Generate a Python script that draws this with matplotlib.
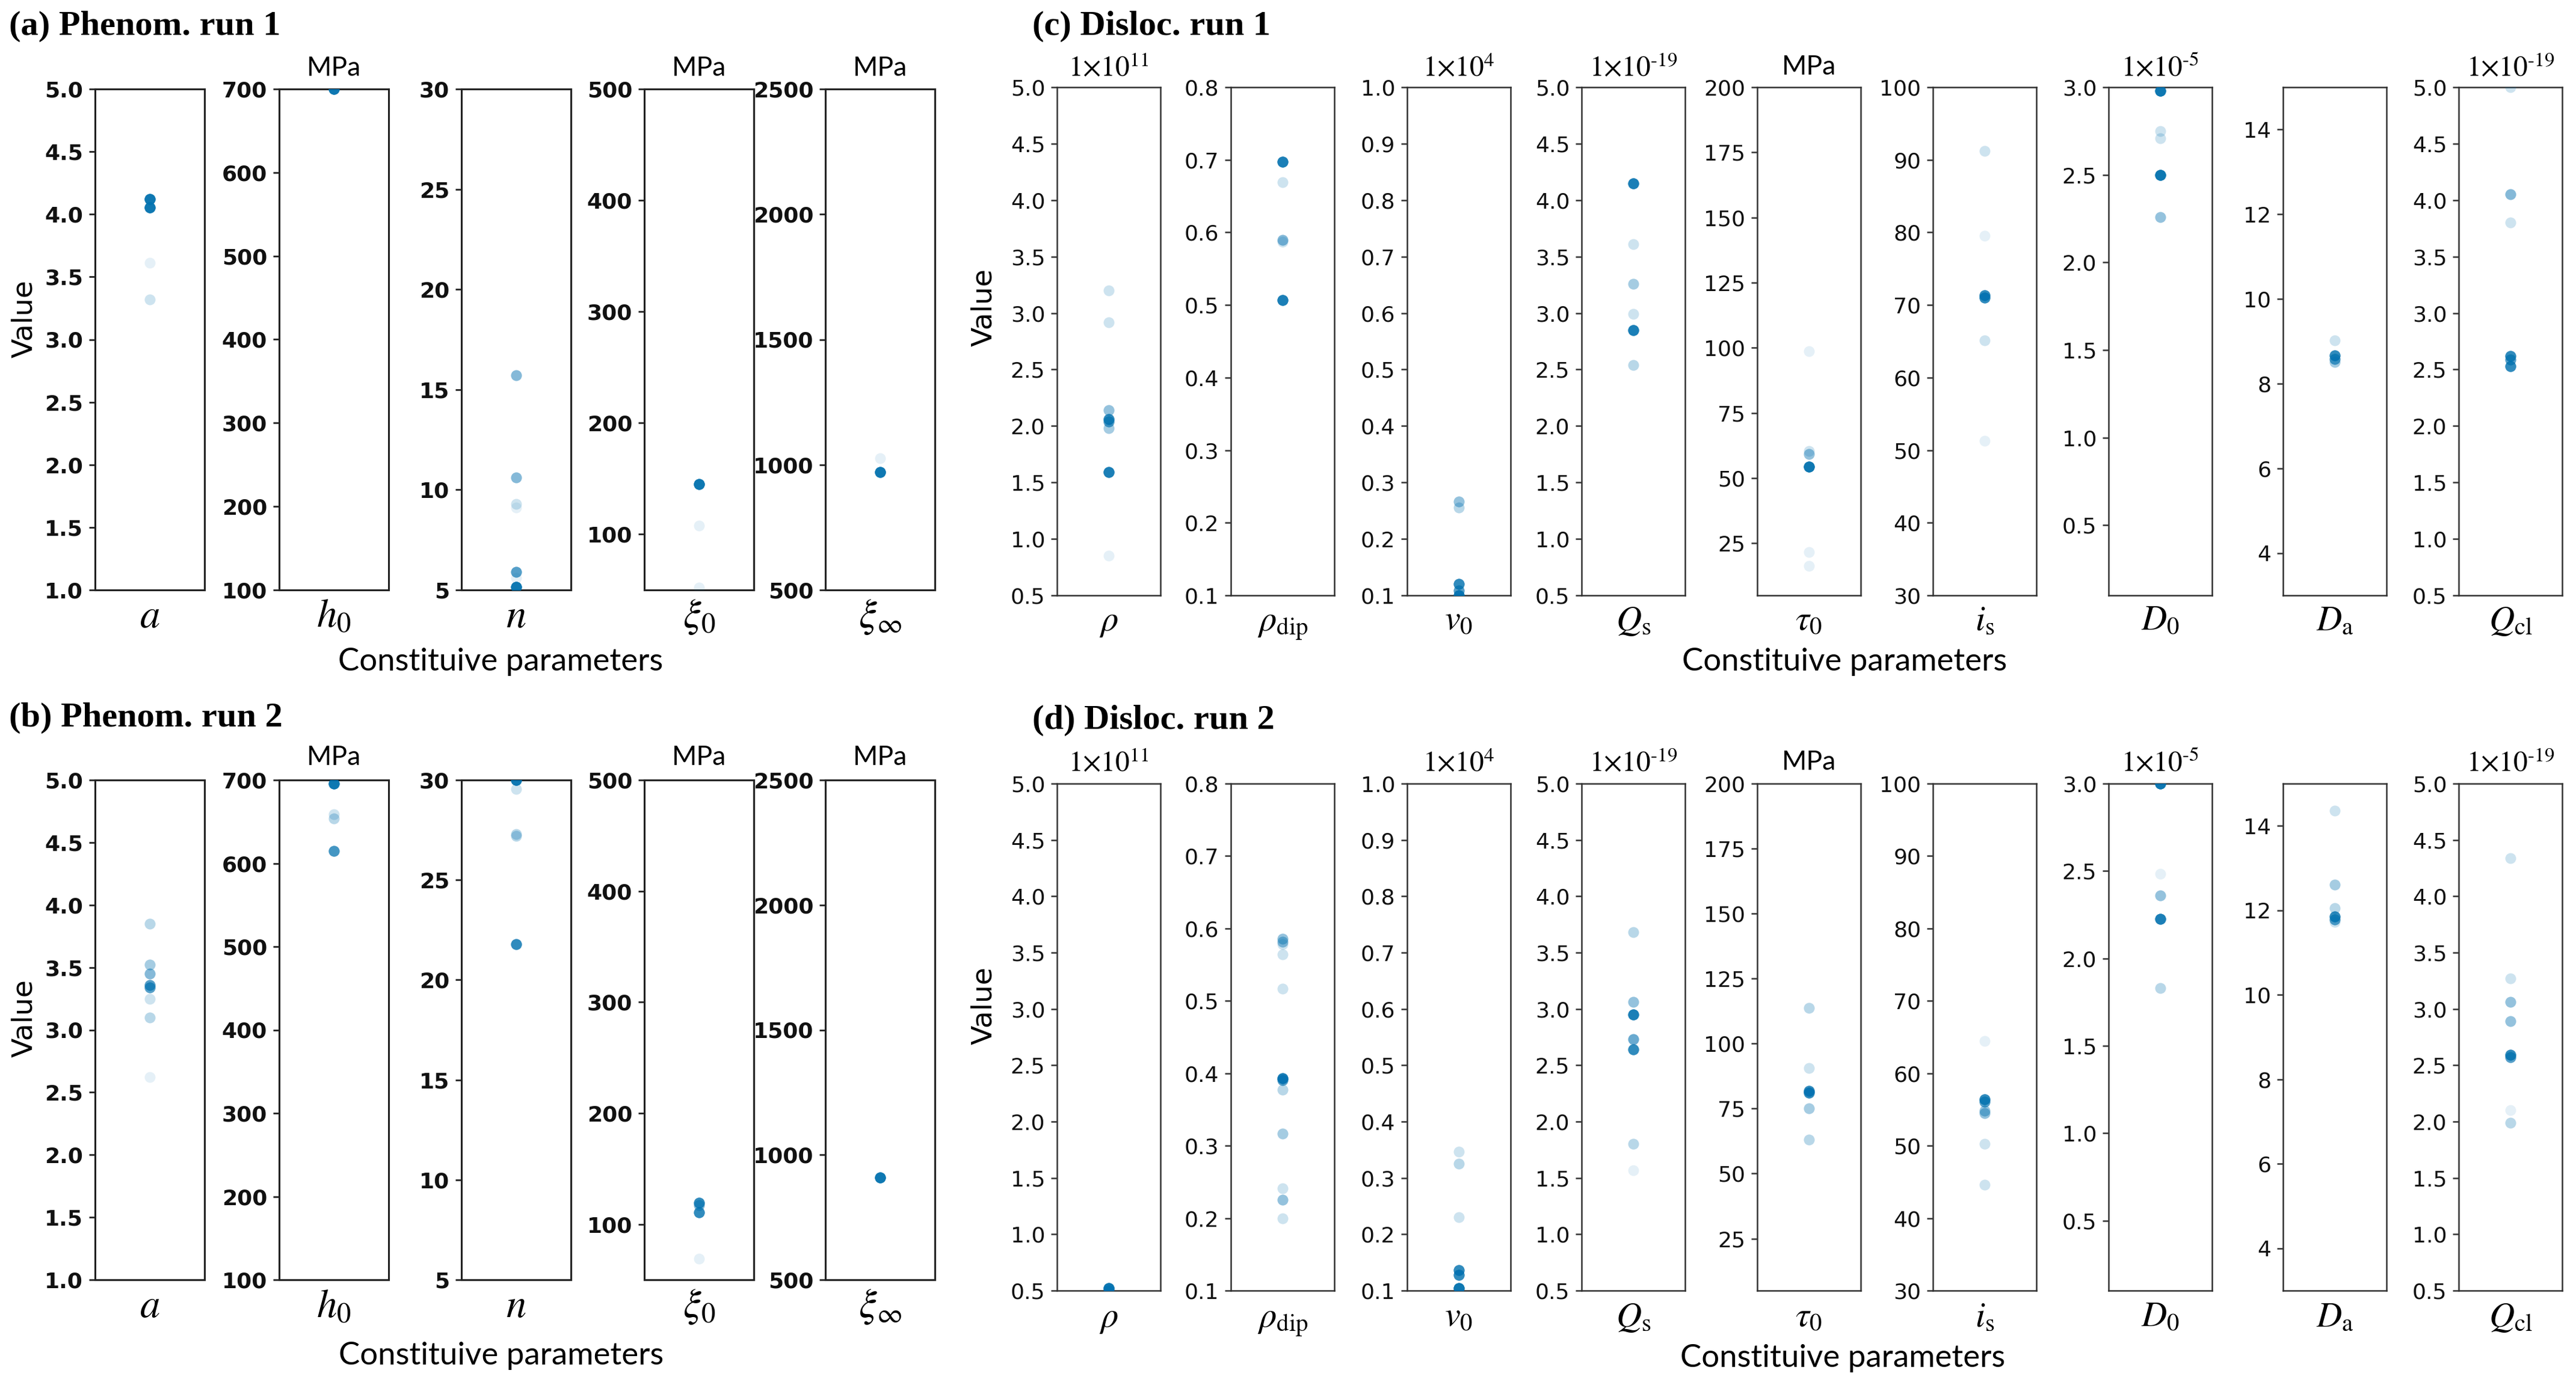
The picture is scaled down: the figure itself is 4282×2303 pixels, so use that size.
import numpy as np
import matplotlib
matplotlib.use('Agg')
import matplotlib.pyplot as plt

plt.rcParams['mathtext.fontset'] = 'stix'

# ---------------- data ----------------
phen_labels = [r'$a$', r'$h_0$', r'$n$', r'$\xi_0$', r'$\xi_\infty$']
phen_units = ['', 'MPa', '', 'MPa', 'MPa']
phen_ylim = [(1.0, 5.0), (100, 700), (5, 30), (50, 500), (500, 2500)]
phen_ticks = [np.arange(1.0, 5.01, 0.5), np.arange(100, 701, 100), np.arange(5, 31, 5),
              np.arange(100, 501, 100), np.arange(500, 2501, 500)]
phen_dec = [1, 0, 0, 0, 0]

# values and number of overlapping runs at each value
phen1_vals = [[4.12, 4.055, 3.61, 3.32],
              [700],
              [15.7, 10.6, 9.3, 9.1, 5.9, 5.6, 5.15],
              [145, 108, 52],
              [1027, 970]]
phen1_cnt = [[25, 25, 1, 2],
             [25],
             [6, 6, 2, 1, 10, 1, 25],
             [25, 1, 1],
             [1, 25]]
phen2_vals = [[3.85, 3.52, 3.45, 3.36, 3.34, 3.25, 3.10, 2.62],
              [696, 659, 654, 615],
              [30, 29.56, 27.3, 27.2, 21.8],
              [119.5, 117, 110.7, 69],
              [908]]
phen2_cnt = [[3, 4, 6, 10, 10, 2, 3, 1],
             [25, 2, 3, 12],
             [25, 2, 3, 3, 15],
             [15, 6, 15, 1],
             [25]]

disl_labels = [r'$\rho$', r'$\rho_{\rm dip}$', r'$v_0$', r'$Q_{\rm s}$', r'$\tau_0$',
               r'$i_{\rm s}$', r'$D_0$', r'$D_{\rm a}$', r'$Q_{\rm cl}$']
disl_units = [r'$1{\times}10^{11}$', '', r'$1{\times}10^{4}$', r'$1{\times}10^{\text{-19}}$', 'MPa',
              '', r'$1{\times}10^{\text{-5}}$', '', r'$1{\times}10^{\text{-19}}$']
disl_ylim = [(0.5, 5.0), (0.1, 0.8), (0.1, 1.0), (0.5, 5.0), (5, 200),
             (30, 100), (0.1, 3.0), (3, 15), (0.5, 5.0)]
disl_ticks = [np.arange(0.5, 5.01, 0.5), np.arange(0.1, 0.81, 0.1), np.arange(0.1, 1.01, 0.1),
              np.arange(0.5, 5.01, 0.5), np.arange(25, 201, 25), np.arange(30, 101, 10),
              np.arange(0.5, 3.01, 0.5), np.arange(4, 15, 2), np.arange(0.5, 5.01, 0.5)]
disl_dec = [1, 1, 1, 1, 0, 0, 1, 0, 1]

disl1_vals = [[3.20, 2.92, 2.14, 2.06, 2.04, 1.98, 1.59, 0.85],
              [0.697, 0.669, 0.590, 0.587, 0.507],
              [0.266, 0.255, 0.12, 0.108, 0.10],
              [4.15, 3.61, 3.26, 2.99, 2.85, 2.54],
              [98.7, 60.4, 59.2, 54.5, 21.6, 16.2],
              [91.25, 79.5, 71.3, 71.0, 65.1, 51.3],
              [2.98, 2.75, 2.71, 2.50, 2.26],
              [9.02, 8.66, 8.58, 8.51],
              [5.0, 4.05, 3.80, 2.62, 2.59, 2.53]]
disl1_cnt = [[2, 2, 5, 15, 10, 4, 20, 1],
             [20, 2, 6, 2, 20],
             [5, 3, 15, 10, 20],
             [20, 2, 4, 2, 20, 3],
             [1, 2, 5, 25, 1, 1],
             [2, 1, 15, 15, 2, 1],
             [25, 2, 2, 25, 5],
             [2, 15, 10, 4],
             [2, 6, 2, 15, 10, 15]]
disl2_vals = [[0.52, 0.50],
              [0.586, 0.582, 0.578, 0.564, 0.517, 0.393, 0.391, 0.377, 0.317, 0.241, 0.225, 0.200],
              [0.347, 0.325, 0.230, 0.136, 0.128, 0.104],
              [3.68, 3.06, 2.95, 2.73, 2.64, 1.80, 1.57],
              [113.8, 90.5, 81.7, 81.0, 75.1, 63.1],
              [64.5, 56.4, 56.1, 54.8, 54.5, 50.3, 44.6],
              [3.0, 2.485, 2.36, 2.225, 1.83],
              [14.36, 12.61, 12.05, 11.86, 11.79, 11.72],
              [4.34, 3.27, 3.06, 2.89, 2.59, 2.57, 2.10, 1.99]]
disl2_cnt = [[25, 10],
             [5, 5, 2, 2, 2, 20, 10, 3, 4, 2, 5, 2],
             [2, 3, 2, 15, 15, 25],
             [3, 5, 20, 8, 15, 3, 1],
             [3, 2, 15, 15, 4, 3],
             [1, 15, 10, 5, 5, 2, 2],
             [25, 1, 5, 20, 3],
             [2, 4, 3, 15, 10, 2],
             [2, 2, 5, 5, 15, 10, 1, 3]]

panel_titles = ['(a) Phenom. run 1', '(b) Phenom. run 2', '(c) Disloc. run 1', '(d) Disloc. run 2']

# ---------------- figure ----------------
W, H = 4282, 2303
DPI = 200
fig = plt.figure(figsize=(W / DPI, H / DPI), dpi=DPI)
BLUE = '#0173B2'
BASE_ALPHA = 0.1


def fx(x):
    return x / W


def fy(y):
    return 1 - y / H


def add_ax(left, top, width, bottom):
    return fig.add_axes([fx(left), fy(bottom), width / W, (bottom - top) / H])


def draw_row(lefts, width, top, bottom, labels, units, ylims, ticks, decs, vals, cnts,
             bold, label_size, label_base, unit_y, value_xy, xlabel_xy, title_xy, title):
    for i, left in enumerate(lefts):
        ax = add_ax(left, top, width, bottom)
        v = np.repeat(np.asarray(vals[i], float), cnts[i])
        ax.scatter(np.zeros_like(v), v, s=42, color=BLUE, alpha=BASE_ALPHA,
                   linewidths=0, zorder=3)
        ax.set_xlim(-1, 1)
        ax.set_ylim(*ylims[i])
        ax.set_xticks([])
        ax.set_yticks(ticks[i])
        ax.set_yticklabels([f'{t:.{decs[i]}f}' for t in ticks[i]])
        sc = '#222222' if bold else '#333333'
        for sp in ax.spines.values():
            sp.set_color(sc)
            sp.set_linewidth(1.1 if bold else 0.9)
        ax.tick_params(axis='y', length=3.6, width=1.0 if bold else 0.9, color=sc,
                       pad=3.5, labelsize=13, labelcolor='#111111')
        for lab in ax.get_yticklabels():
            lab.set_fontweight('bold' if bold else 'normal')
        cx = left + width / 2
        fig.text(fx(cx), fy(label_base), labels[i], ha='center', va='baseline',
                 fontsize=label_size)
        if units[i]:
            if units[i] == 'MPa':
                fig.text(fx(cx), fy(unit_y), 'MPa', ha='center', va='center',
                         fontsize=16, family='Lato')
            else:
                fig.text(fx(cx), fy(unit_y + 2), units[i], ha='center', va='center',
                         fontsize=17)
    fig.text(fx(value_xy[0]), fy(value_xy[1]), 'Value', rotation=90, ha='center',
             va='center', fontsize=17)
    fig.text(fx(xlabel_xy[0]), fy(xlabel_xy[1]), 'Constituive parameters', ha='center',
             va='center', fontsize=19, family='Lato')
    fig.text(fx(title_xy[0]), fy(title_xy[1]), title, ha='left', va='center',
             fontsize=21, fontweight='bold', family='Liberation Serif')


phen_lefts = [158, 464, 767, 1071, 1372]
disl_lefts = [1757, 2046, 2339, 2629, 2921, 3213, 3505, 3795, 4087]

draw_row(phen_lefts, 182, 148, 981, phen_labels, phen_units, phen_ylim, phen_ticks, phen_dec,
         phen1_vals, phen1_cnt, True, 24, 1043, 114, (41, 530), (832, 1100), (15, 44),
         panel_titles[0])
draw_row(phen_lefts, 182, 1297, 2128, phen_labels, phen_units, phen_ylim, phen_ticks, phen_dec,
         phen2_vals, phen2_cnt, True, 24, 2190, 1260, (41, 1693), (833, 2254), (15, 1194),
         panel_titles[1])
draw_row(disl_lefts, 172, 145, 990, disl_labels, disl_units, disl_ylim, disl_ticks, disl_dec,
         disl1_vals, disl1_cnt, False, 21, 1048, 112, (1636, 511), (3066, 1100), (1716, 44),
         panel_titles[2])
draw_row(disl_lefts, 172, 1303, 2146, disl_labels, disl_units, disl_ylim, disl_ticks, disl_dec,
         disl2_vals, disl2_cnt, False, 21, 2206, 1268, (1636, 1672), (3063, 2258), (1716, 1198),
         panel_titles[3])

fig.savefig('out.png', dpi=DPI)
